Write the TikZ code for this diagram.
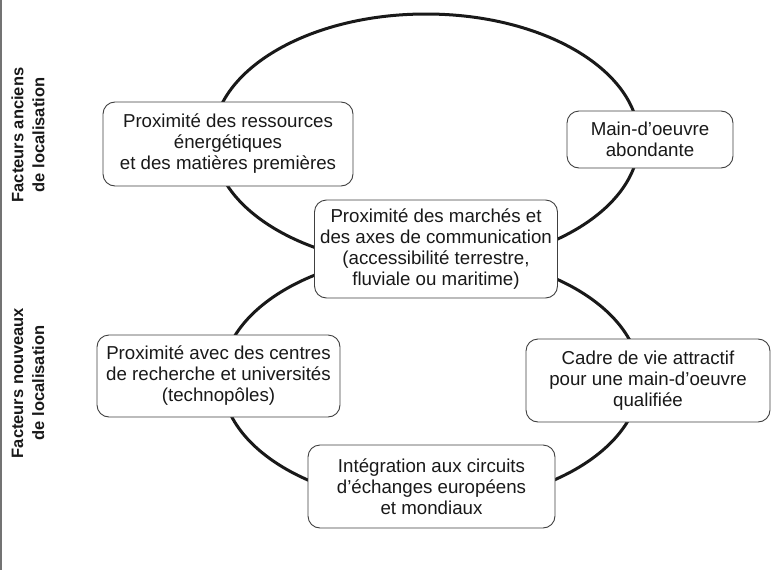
\documentclass[tikz,border=0pt]{standalone}
\usepackage{fontspec}
\setmainfont{Liberation Sans}
\begin{document}
\begin{tikzpicture}[x=1pt,y=-1pt,
  box/.style={draw=black!75,line width=0.9pt,rounded corners=12pt,fill=white,align=center,inner sep=0pt,font=\fontsize{18.7}{21}\selectfont,text=black!90},
  ring/.style={line width=3pt,draw=black!90},
  side/.style={font=\bfseries\fontsize{16.5}{21}\selectfont,align=center,rotate=90,text=black!90}]
\useasboundingbox (0,0) rectangle (771,570);
\draw[draw=black!55,line width=2pt] (1,0) -- (1,570);
\draw[ring] (426,140) ellipse [x radius=213, y radius=126];
\draw[ring] (431,379) ellipse [x radius=209, y radius=125];
\node[box,minimum width=250pt,minimum height=84pt] (a) at (228,144) {Proximité des ressources\\énergétiques\\et des matières premières};
\node[box,minimum width=166pt,minimum height=57pt] (b) at (650,139.5) {Main-d’oeuvre\\abondante};
\node[box,minimum width=243pt,minimum height=98pt] (c) at (436,249) {Proximité des marchés et\\des axes de communication\\(accessibilité terrestre,\\fluviale ou maritime)};
\node[box,minimum width=243pt,minimum height=82pt] (d) at (218.5,376) {Proximité avec des centres\\de recherche et universités\\(technopôles)};
\node[box,minimum width=244pt,minimum height=83pt] (e) at (648,380.5) {Cadre de vie attractif\\pour une main-d’oeuvre\\qualifiée};
\node[box,minimum width=247pt,minimum height=83pt] (f) at (431.5,486.5) {Intégration aux circuits\\d’échanges européens\\et mondiaux};
\node[side] (s1) at (28,135) {Facteurs anciens\\de localisation};
\node[side] (s2) at (28,383) {Facteurs nouveaux\\de localisation};
\end{tikzpicture}
\end{document}
